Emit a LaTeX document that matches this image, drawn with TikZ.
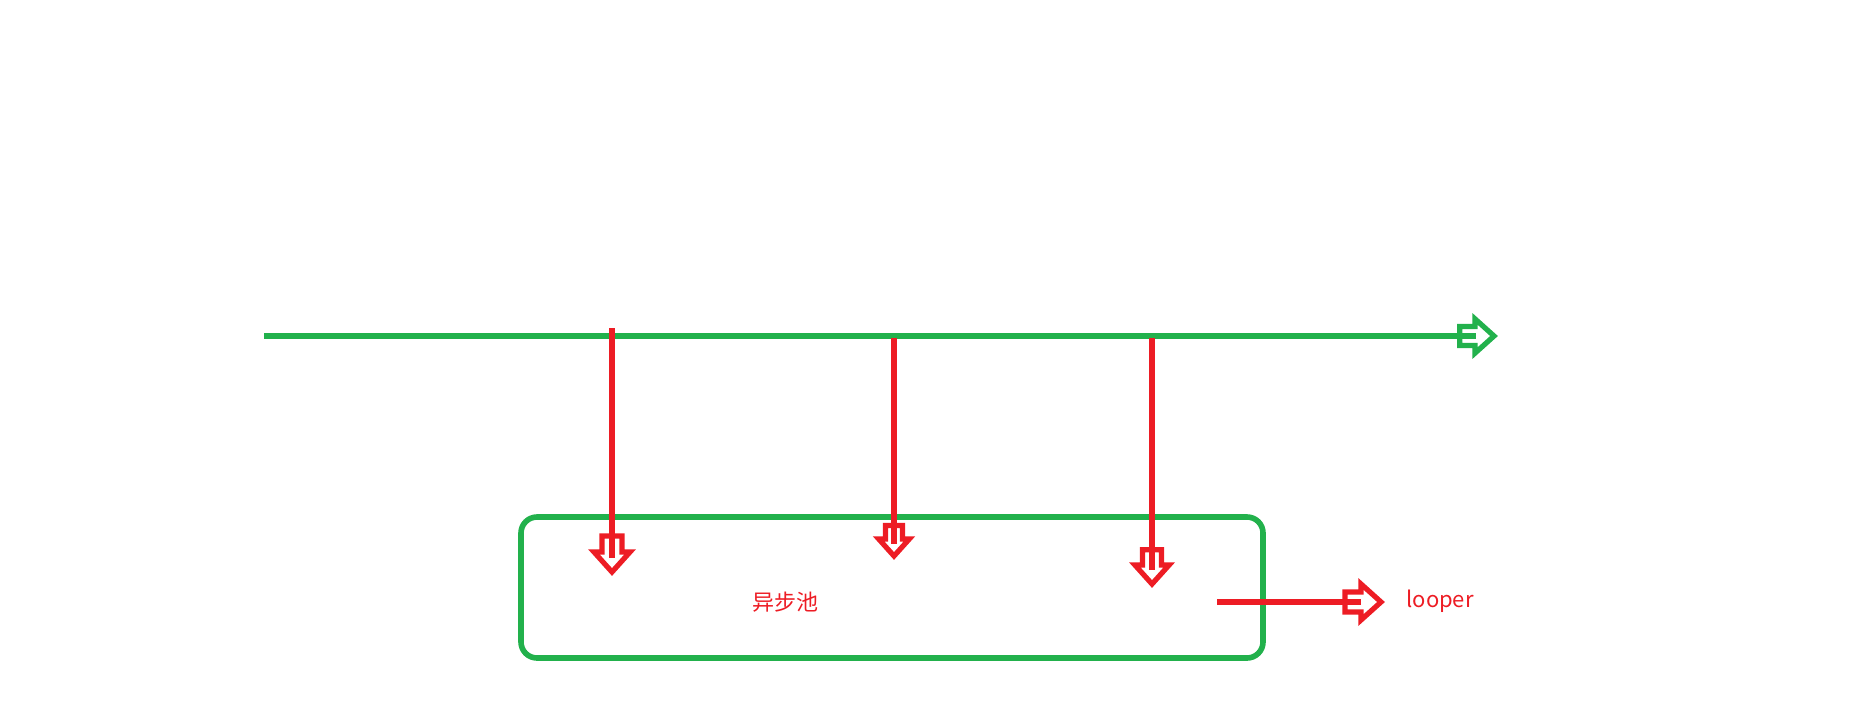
\documentclass[tikz,border=0pt]{standalone}
\usepackage{fontspec}
\setmainfont{Noto Sans CJK SC}
\newfontfamily\cjk{Noto Sans CJK SC}
\usetikzlibrary{calc}
\definecolor{poolgreen}{RGB}{34,177,76}
\definecolor{callred}{RGB}{237,28,36}
\tikzset{
  greenline/.style={draw=poolgreen, line width=2.8pt},
  redline/.style={draw=callred, line width=2.6pt},
  hollowhead/.pic={
    \draw[line width=2.6pt, line join=miter] (0,0) -- (-20,18) -- (-20,10) -- (-36,10)
      -- (-36,-10) -- (-20,-10) -- (-20,-18) -- cycle;
  }
}
\begin{document}
\begin{tikzpicture}[x=0.5pt, y=-0.5pt]
    \useasboundingbox (0,0) rectangle (1856,702);

    % Ligne principale (verte)
    \coordinate (flow start) at (264,336);
    \coordinate (flow end) at (1494,336);
    \draw[greenline] (flow start) -- ($(flow end)+(-18,0)$);
    \pic[color=poolgreen, scale=0.95] at (flow end) {hollowhead};

    % Le pool
    \node[greenline, rounded corners=8pt, minimum width=371pt, minimum height=70.5pt,
          inner sep=0pt] (pool) at (892,587.5) {};
    \node[text=callred, font=\cjk\fontsize{11pt}{13pt}\selectfont] (pool label) at (785,602) {异步池};

    % Les appels (rouges)
    \coordinate (tap a) at (612,328);
    \coordinate (drop a) at (612,572);
    \coordinate (tap b) at (894,338);
    \coordinate (drop b) at (894,556);
    \coordinate (tap c) at (1152,338);
    \coordinate (drop c) at (1152,584);
    \draw[redline] (tap a) -- ($(drop a)+(0,-14)$);
    \draw[redline] (tap b) -- ($(drop b)+(0,-12)$);
    \draw[redline] (tap c) -- ($(drop c)+(0,-14)$);
    \pic[color=callred, rotate=-90] at (drop a) {hollowhead};
    \pic[color=callred, rotate=-90, scale=0.85] at (drop b) {hollowhead};
    \pic[color=callred, rotate=-90, scale=0.95] at (drop c) {hollowhead};

    % Sortie vers le looper
    \coordinate (out start) at (1217,602);
    \coordinate (out tip) at (1381,602);
    \draw[redline] (out start) -- ($(out tip)+(-20,0)$);
    \pic[color=callred] at (out tip) {hollowhead};
    \node[text=callred, font=\fontsize{11pt}{13pt}\selectfont, anchor=west,
          inner sep=0pt] (looper) at (1406,601) {looper};
\end{tikzpicture}
\end{document}
